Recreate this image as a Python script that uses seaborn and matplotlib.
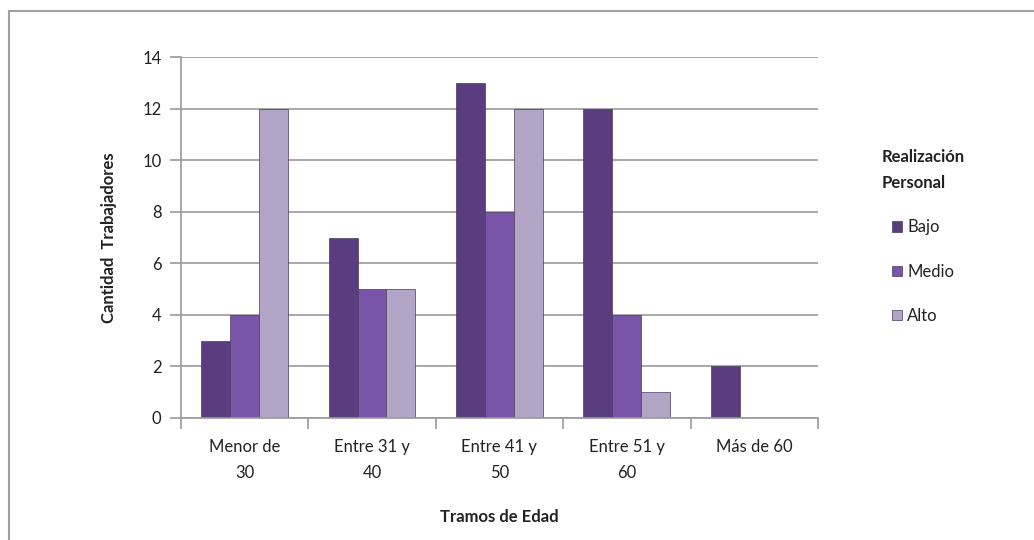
import numpy as np
import pandas as pd
import matplotlib
matplotlib.use('Agg')
import matplotlib.pyplot as plt
from matplotlib.lines import Line2D
import seaborn as sns

# data
tramos = ['Menor de\n30', 'Entre 31 y\n40', 'Entre 41 y\n50', 'Entre 51 y\n60', 'Más de 60']
niveles = ['Bajo', 'Medio', 'Alto']
bajo = [3, 7, 13, 12, 2]
medio = [4, 5, 8, 4, 0]
alto = [12, 5, 12, 1, 0]
colores = ['#5a3d7e', '#7a54a8', '#b3a5c6']

df = pd.DataFrame({
    'Tramo': tramos * 3,
    'Nivel': ['Bajo'] * 5 + ['Medio'] * 5 + ['Alto'] * 5,
    'Cantidad': bajo + medio + alto,
})

sns.set_style('white')
plt.rcParams['font.family'] = ['Lato', 'DejaVu Sans']

fig = plt.figure(figsize=(10.34, 5.4), dpi=100)
ax = fig.add_axes([0.175, 0.226, 0.616, 0.668])

sns.barplot(data=df, x='Tramo', y='Cantidad', hue='Nivel', hue_order=niveles,
            palette=colores, width=0.68, gap=0, edgecolor='#4a3a5e',
            linewidth=0.5, saturation=1, ax=ax)

ax.set_ylim(0, 14)
ax.set_xlim(-0.5, 4.5)
ax.set_yticks(range(0, 15, 2))
ax.yaxis.grid(True, color='#9a9a9a', linewidth=1.2)
ax.set_axisbelow(True)
for s in ['top', 'right']:
    ax.spines[s].set_visible(False)
for s in ['left', 'bottom']:
    ax.spines[s].set_color('#9a9a9a')
    ax.spines[s].set_linewidth(1.2)

ax.tick_params(axis='y', left=True, length=8, width=1.2, color='#9a9a9a',
               labelsize=12, labelcolor='#222222', pad=6)
ax.set_xticks(range(5))
ax.set_xticklabels(tramos, fontsize=12, color='#222222', linespacing=1.75)
ax.tick_params(axis='x', which='major', bottom=False, pad=12)
ax.set_xticks(np.arange(-0.5, 5, 1), minor=True)
ax.tick_params(axis='x', which='minor', bottom=True, length=8, width=1.2,
               color='#9a9a9a')

ax.set_ylabel('Cantidad  Trabajadores', fontsize=12, fontweight='bold',
              color='#222222', labelpad=18)
ax.set_xlabel('Tramos de Edad', fontsize=12, fontweight='bold',
              color='#222222', labelpad=20)

leg = ax.legend(title='Realización\nPersonal', loc='upper left',
                bbox_to_anchor=(1.09, 0.765), frameon=False, fontsize=12,
                handlelength=0.6, handleheight=0.6, handletextpad=0.3,
                labelspacing=1.7, borderaxespad=0)
leg.get_title().set_fontweight('bold')
leg.get_title().set_fontsize(12)
leg.get_title().set_color('#222222')
leg.get_title().set_linespacing(1.8)
for t in leg.get_texts():
    t.set_color('#222222')

# outer chart frame (left and top visible)
fig.add_artist(Line2D([0.009, 0.009], [0.0, 0.98], color='#a0a0a0', lw=1.5,
                      transform=fig.transFigure))
fig.add_artist(Line2D([0.009, 1.0], [0.98, 0.98], color='#a0a0a0', lw=1.5,
                      transform=fig.transFigure))

fig.savefig('out.png', dpi=100, facecolor='white')
